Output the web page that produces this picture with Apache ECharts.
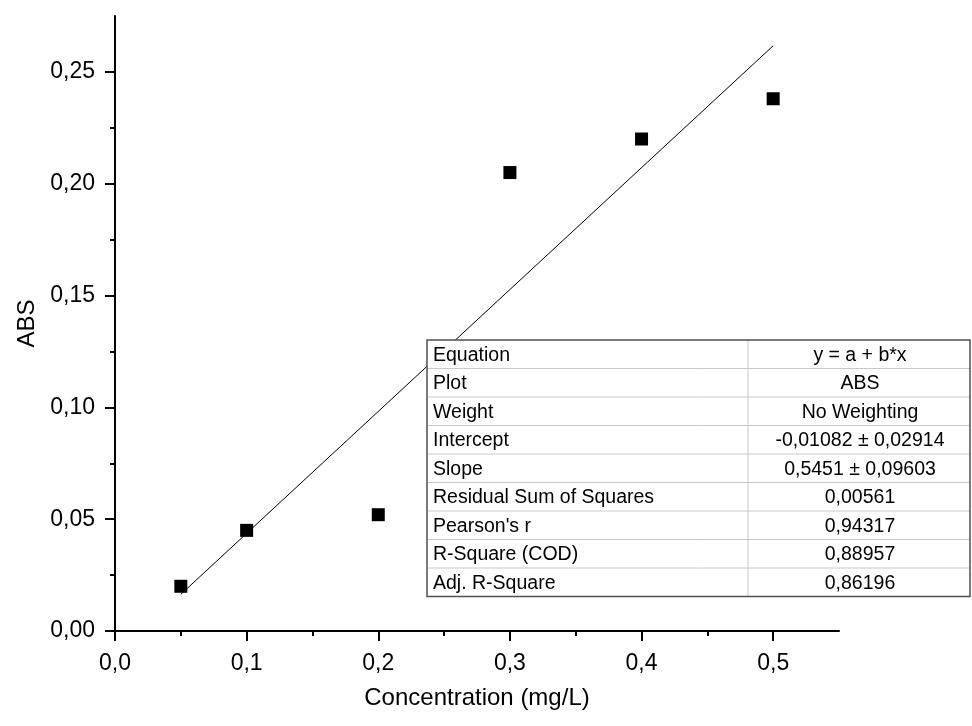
<!DOCTYPE html>
<html>
<head>
<meta charset="utf-8">
<script src="https://cdn.jsdelivr.net/npm/echarts@6/dist/echarts.min.js"></script>
<style>
  html, body { margin: 0; padding: 0; background: #fff; }
  #main { width: 972px; height: 726px; }
</style>
</head>
<body>
<div id="main"></div>
<script>
// measured points
var concentration = [0.05, 0.1, 0.2, 0.3, 0.4, 0.5];
var absValues = [0.020, 0.045, 0.052, 0.205, 0.220, 0.238];
// fitted line ends
var fitX = [0.05, 0.5];
var fitY = [0.0164, 0.2617];
var xTicks = [0, 0.1, 0.2, 0.3, 0.4, 0.5];
var yTicks = [0, 0.05, 0.1, 0.15, 0.2, 0.25];
// fit report table
var tableLabels = ['Equation', 'Plot', 'Weight', 'Intercept', 'Slope',
  'Residual Sum of Squares', "Pearson's r", 'R-Square (COD)', 'Adj. R-Square'];
var tableValues = ['y = a + b*x', 'ABS', 'No Weighting', '-0,01082 \u00b1 0,02914',
  '0,5451 \u00b1 0,09603', '0,00561', '0,94317', '0,88957', '0,86196'];

var myChart = echarts.init(document.getElementById('main'));
var font = '"Liberation Sans", Arial, sans-serif';

var pts = concentration.map(function (x, i) { return [x, absValues[i]]; });
var fit = fitX.map(function (x, i) { return [x, fitY[i]]; });

// table drawn with graphic elements
var tL = 427, tT = 340, tW = 543, rowH = 28.5, colX = 748;
var tableEls = [];
tableEls.push({
  type: 'rect', shape: { x: tL, y: tT, width: tW, height: rowH * tableLabels.length },
  style: { fill: '#fff', stroke: 'none' }, z: 100
});
for (var i = 1; i < tableLabels.length; i++) {
  tableEls.push({
    type: 'line', shape: { x1: tL, y1: tT + rowH * i, x2: tL + tW, y2: tT + rowH * i },
    style: { stroke: '#c8c8c8', lineWidth: 1 }, z: 101
  });
}
tableEls.push({
  type: 'line', shape: { x1: colX, y1: tT, x2: colX, y2: tT + rowH * tableLabels.length },
  style: { stroke: '#c8c8c8', lineWidth: 1 }, z: 101
});
tableEls.push({
  type: 'rect', shape: { x: tL, y: tT, width: tW, height: rowH * tableLabels.length },
  style: { fill: 'none', stroke: '#505050', lineWidth: 1.5 }, z: 102
});
tableLabels.forEach(function (lab, i) {
  tableEls.push({
    type: 'text', x: tL + 6, y: tT + rowH * i + rowH / 2 + 1,
    style: { text: lab, font: '19.5px ' + font, fill: '#000', verticalAlign: 'middle', align: 'left' }, z: 103
  });
  tableEls.push({
    type: 'text', x: (colX + tL + tW) / 2 + 1, y: tT + rowH * i + rowH / 2 + 1,
    style: { text: tableValues[i], font: '19.5px ' + font, fill: '#000', verticalAlign: 'middle', align: 'center' }, z: 103
  });
});

var option = {
  backgroundColor: '#fff',
  animation: false,
  grid: { left: 115, right: 133, top: 16, bottom: 95, containLabel: false },
  xAxis: {
    type: 'value', min: 0, max: 0.55, interval: 0.1,
    name: 'Concentration (mg/L)', nameLocation: 'middle', nameGap: 55,
    nameTextStyle: { fontSize: 24, fontFamily: font, color: '#000' },
    axisLine: { show: true, onZero: false, lineStyle: { color: '#000', width: 2 } },
    axisTick: { show: true, inside: false, length: 10, customValues: xTicks, lineStyle: { color: '#000', width: 2 } },
    minorTick: { show: true, splitNumber: 2, length: 5, lineStyle: { color: '#000', width: 2 } },
    axisLabel: {
      customValues: xTicks, margin: 21, fontSize: 23, fontFamily: font, color: '#000',
      formatter: function (v) { return v.toFixed(1).replace('.', ','); }
    },
    splitLine: { show: false }
  },
  yAxis: {
    type: 'value', min: 0, max: 0.275, interval: 0.05,
    name: 'ABS', nameLocation: 'middle', nameGap: 75,
    nameTextStyle: { fontSize: 24, fontFamily: font, color: '#000' },
    axisLine: { show: true, onZero: false, lineStyle: { color: '#000', width: 2 } },
    axisTick: { show: true, inside: false, length: 10, customValues: yTicks, lineStyle: { color: '#000', width: 2 } },
    minorTick: { show: true, splitNumber: 2, length: 5, lineStyle: { color: '#000', width: 2 } },
    axisLabel: {
      customValues: yTicks, margin: 20, fontSize: 23, fontFamily: font, color: '#000',
      formatter: function (v) { return v.toFixed(2).replace('.', ','); }
    },
    splitLine: { show: false }
  },
  series: [
    {
      type: 'line', data: fit, symbol: 'none', z: 2,
      lineStyle: { color: '#000', width: 1 }
    },
    {
      type: 'scatter', data: pts, symbol: 'rect', symbolSize: 13, z: 3,
      itemStyle: { color: '#000', opacity: 1 }
    }
  ],
  graphic: tableEls
};
myChart.setOption(option);
</script>
</body>
</html>
